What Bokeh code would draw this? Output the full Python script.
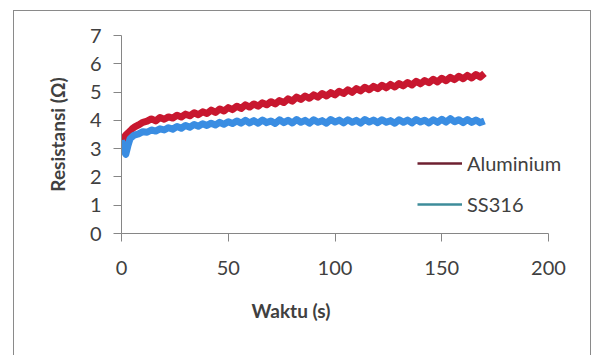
from bokeh.plotting import figure
from bokeh.layouts import column
from bokeh.models import Range1d, FixedTicker, Legend, LegendItem, Title
from bokeh.embed import file_html
from bokeh.resources import INLINE

# ---- data ----
waktu = [0, 1, 2, 3, 4, 5, 6, 8, 10, 12, 14, 16, 18, 20, 22, 24, 26, 28, 30, 32, 34, 36, 38, 40,
         42, 44, 46, 48, 50, 52, 54, 56, 58, 60, 62, 64, 66, 68, 70, 72, 74, 76, 78, 80, 82, 84,
         86, 88, 90, 92, 94, 96, 98, 100, 102, 104, 106, 108, 110, 112, 114, 116, 118, 120, 122,
         124, 126, 128, 130, 132, 134, 136, 138, 140, 142, 144, 146, 148, 150, 152, 154, 156, 158,
         160, 162, 164, 166, 168, 170]

aluminium = [3.25, 3.35, 3.48, 3.55, 3.62, 3.70, 3.76, 3.84, 3.93, 3.97, 4.05, 3.98, 4.10, 4.04,
             4.12, 4.08, 4.18, 4.12, 4.22, 4.16, 4.27, 4.20, 4.30, 4.24, 4.36, 4.28, 4.40, 4.33,
             4.45, 4.38, 4.50, 4.42, 4.55, 4.47, 4.58, 4.50, 4.62, 4.55, 4.66, 4.58, 4.70, 4.63,
             4.76, 4.68, 4.82, 4.74, 4.86, 4.78, 4.90, 4.82, 4.95, 4.86, 4.98, 4.90, 5.03, 4.95,
             5.08, 4.99, 5.12, 5.04, 5.17, 5.08, 5.20, 5.12, 5.24, 5.15, 5.27, 5.18, 5.30, 5.22,
             5.34, 5.25, 5.38, 5.29, 5.41, 5.33, 5.45, 5.36, 5.49, 5.40, 5.52, 5.44, 5.56, 5.47,
             5.59, 5.50, 5.62, 5.53, 5.66]

ss316 = [3.30, 2.95, 2.80, 3.10, 3.35, 3.42, 3.48, 3.52, 3.60, 3.58, 3.66, 3.62, 3.70, 3.66,
         3.74, 3.69, 3.78, 3.72, 3.82, 3.76, 3.85, 3.79, 3.88, 3.82, 3.90, 3.84, 3.93, 3.86,
         3.95, 3.89, 3.98, 3.90, 4.00, 3.91, 3.99, 3.90, 4.01, 3.92, 3.98, 3.89, 4.02, 3.92,
         4.00, 3.91, 4.03, 3.93, 4.00, 3.90, 4.02, 3.93, 3.99, 3.90, 4.03, 3.94, 4.01, 3.91,
         4.02, 3.93, 4.00, 3.90, 4.03, 3.94, 4.01, 3.92, 4.02, 3.93, 3.99, 3.90, 4.02, 3.93,
         4.01, 3.91, 4.03, 3.94, 4.00, 3.91, 4.02, 3.93, 4.04, 3.94, 4.06, 3.95, 4.02, 3.92,
         4.03, 3.93, 4.01, 3.92, 3.98]

x_ticks = [0, 50, 100, 150, 200]
y_ticks = [0, 1, 2, 3, 4, 5, 6, 7]
series_names = ["Aluminium", "SS316"]
x_title = "Waktu (s)"
y_title = "Resistansi (Ω)"

FONT = "Lato"
TXT = "#404040"
AXIS = "#868686"

# frame extends to the right past 200 so the legend is not clipped; the axis stops at 200
p = figure(width=576, height=344, output_backend="svg", toolbar_location=None,
           x_range=Range1d(0, 219.2), y_range=Range1d(0, 7),
           min_border_left=107, min_border_right=1, min_border_top=24, min_border_bottom=122,
           background_fill_color="white", border_fill_color="white")
p.outline_line_color = None
p.grid.visible = False

for ax in (p.xaxis[0], p.yaxis[0]):
    ax.axis_line_color = AXIS
    ax.major_tick_line_color = AXIS
    ax.minor_tick_line_color = None
    ax.major_tick_in = 0
    ax.major_tick_out = 8
    ax.major_label_text_font = FONT
    ax.major_label_text_font_size = "20px"
    ax.major_label_text_color = TXT
    ax.axis_label_text_font = FONT
    ax.axis_label_text_font_size = "19px"
    ax.axis_label_text_font_style = "bold"
    ax.axis_label_text_color = TXT

p.xaxis[0].ticker = FixedTicker(ticks=x_ticks)
p.xaxis[0].bounds = (0, 200)
p.yaxis[0].ticker = FixedTicker(ticks=y_ticks)
p.yaxis[0].axis_label = y_title
p.xaxis[0].major_label_standoff = 19
p.yaxis[0].major_label_standoff = 12
p.yaxis[0].axis_label_standoff = 18

# x-axis title centred under the 0..200 axis (not under the wider frame)
p.add_layout(Title(text=x_title, align="left", offset=130, standoff=38,
                   text_font=FONT, text_font_size="19px", text_font_style="bold",
                   text_color=TXT), "below")

# legend samples (thin, darker as in the picture); hidden renderers of the same series
r_al = p.line(waktu, aluminium, line_color="#6E2030", line_width=2.5, visible=False)
r_ss = p.line(waktu, ss316, line_color="#3E8C9A", line_width=2.5, visible=False)
legend = Legend(items=[LegendItem(label=series_names[0], renderers=[r_al]),
                       LegendItem(label=series_names[1], renderers=[r_ss])],
                location=(296, 17), padding=0, margin=0, spacing=17,
                glyph_width=45, glyph_height=24, label_height=24, label_standoff=5,
                label_text_font=FONT, label_text_font_size="20px", label_text_color=TXT,
                border_line_alpha=0, background_fill_alpha=0, inactive_fill_alpha=0)
p.add_layout(legend, "center")

p.line(waktu, aluminium, line_color="#C8172F", line_width=7, line_join="round")
p.line(waktu, ss316, line_color="#3A8DE2", line_width=7, line_join="round")

# outer chart border around the figure
layout = column(p, margin=(10, 0, 0, 13),
                styles={"border": "1px solid #8A8A8A", "background-color": "white"})

open("out.html", "w").write(file_html(layout, INLINE))
